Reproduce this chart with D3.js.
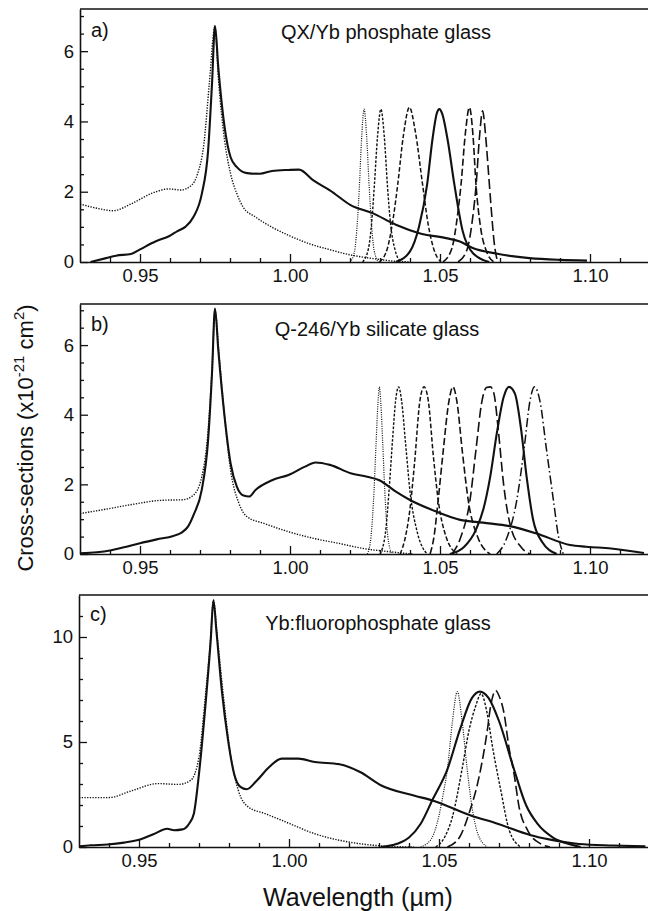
<!DOCTYPE html>
<html>
<head>
<meta charset="utf-8">
<script src="https://cdn.jsdelivr.net/npm/d3@7"></script>
<style>
body { margin: 0; background: #fff; }
svg { display: block; font-family: "Liberation Sans", Arial, Helvetica, sans-serif; }
.axis path, .axis line { stroke: #111; }
.axis text { font-size: 18.5px; fill: #111; }
.curve { fill: none; stroke: #111; stroke-linejoin: round; }
</style>
</head>
<body>
<svg id="chart" width="648" height="911"></svg>
<script>
// ---- axis ticks ----
const xDomain = [0.93, 1.12];
const xMajorTicks = [0.95, 1.00, 1.05, 1.10];
const xMinorTicks = [0.94, 0.96, 0.97, 0.98, 0.99, 1.01, 1.02, 1.03, 1.04, 1.06, 1.07, 1.08, 1.09, 1.11];
const yTicksAB = [0, 2, 4, 6];
const yMinorAB = [0.5, 1, 1.5, 2.5, 3, 3.5, 4.5, 5, 5.5, 6.5, 7];
const yTicksC = [0, 5, 10];
const yMinorC = [1, 2, 3, 4, 6, 7, 8, 9, 11];

// ---- a) QX/Yb phosphate glass : [wavelength um, cross-section 1e-21 cm2] ----
const emissionA = [[0.9335,0],[0.9387,0.11],[0.9420,0.18],[0.9470,0.23],[0.9500,0.36],[0.9553,0.59],[0.9598,0.74],[0.9625,0.88],[0.9651,1.0],[0.9678,1.28],[0.9706,1.94],[0.9727,3.17],[0.9740,5.07],[0.9750,6.72],[0.9761,5.54],[0.9782,3.84],[0.9802,2.98],[0.9823,2.70],[0.9857,2.53],[0.9899,2.51],[0.9940,2.59],[0.9995,2.62],[1.0030,2.63],[1.0078,2.32],[1.0133,2.04],[1.0202,1.62],[1.0275,1.39],[1.0353,1.06],[1.0431,0.82],[1.0520,0.68],[1.0564,0.59],[1.0609,0.40],[1.0687,0.24],[1.0798,0.11],[1.0900,0.06],[1.0990,0.04]];
const absorptionA = [[0.9300,1.65],[0.9362,1.52],[0.9410,1.46],[0.9472,1.66],[0.9541,1.96],[0.9596,2.08],[0.9637,2.05],[0.9671,2.18],[0.9692,2.51],[0.9713,3.36],[0.9731,5.07],[0.9750,6.70],[0.9761,5.26],[0.9782,3.46],[0.9802,2.51],[0.9823,1.94],[0.9844,1.56],[0.9885,1.28],[0.9940,0.99],[0.9995,0.76],[1.0064,0.52],[1.0133,0.35],[1.0202,0.20],[1.0275,0.10],[1.0340,0.03],[1.0400,0]];
const laserA1 = [[1.0200,0],[1.0215,0.3],[1.0225,1.2],[1.0231,2.1],[1.0238,3.4],[1.0247,4.35],[1.0256,3.5],[1.0263,2.3],[1.0270,1.3],[1.0280,0.35],[1.0295,0]];
const laserA2 = [[1.0242,0],[1.0262,0.4],[1.0273,1.2],[1.0281,2.15],[1.0292,3.6],[1.0303,4.35],[1.0314,3.6],[1.0325,2.15],[1.0335,1.1],[1.0350,0.35],[1.0370,0]];
const laserA3 = [[1.0298,0],[1.0325,0.4],[1.0345,1.3],[1.0359,2.2],[1.0378,3.6],[1.0398,4.4],[1.0418,3.7],[1.0442,2.2],[1.0460,1.1],[1.0480,0.35],[1.0503,0]];
const laserA4 = [[1.0353,0],[1.0400,0.3],[1.0430,1.0],[1.0457,2.2],[1.0475,3.5],[1.0490,4.25],[1.0498,4.35],[1.0508,4.2],[1.0525,3.5],[1.0548,2.2],[1.0575,0.9],[1.0610,0.25],[1.0664,0]];
const laserA5 = [[1.0510,0],[1.0540,0.4],[1.0558,1.3],[1.0570,2.2],[1.0585,3.7],[1.0598,4.4],[1.0610,3.6],[1.0620,2.2],[1.0635,1.0],[1.0655,0.3],[1.0680,0]];
const laserA6 = [[1.0560,0],[1.0590,0.35],[1.0608,1.2],[1.0620,2.15],[1.0632,3.6],[1.0642,4.3],[1.0652,3.6],[1.0662,2.5],[1.0670,1.6],[1.0680,0.6],[1.0692,0]];

// ---- b) Q-246/Yb silicate glass ----
const emissionB = [[0.9300,0.02],[0.9356,0.05],[0.9400,0.10],[0.9455,0.21],[0.9500,0.31],[0.9556,0.42],[0.9611,0.52],[0.9640,0.62],[0.9661,0.80],[0.9680,1.15],[0.9706,1.85],[0.9727,3.27],[0.9740,5.19],[0.9750,7.05],[0.9761,5.86],[0.9782,3.94],[0.9802,2.60],[0.9823,1.93],[0.9845,1.68],[0.9864,1.65],[0.9885,1.84],[0.9940,2.12],[0.9995,2.27],[1.0050,2.51],[1.0085,2.63],[1.0133,2.56],[1.0202,2.32],[1.0257,2.22],[1.0298,2.12],[1.0353,1.79],[1.0400,1.55],[1.0487,1.22],[1.0567,0.98],[1.0644,0.90],[1.0733,0.80],[1.0822,0.59],[1.0933,0.26],[1.0987,0.21],[1.1070,0.16],[1.1180,0.03]];
const absorptionB = [[0.9300,1.16],[0.9375,1.27],[0.9472,1.42],[0.9568,1.54],[0.9644,1.56],[0.9678,1.69],[0.9706,2.22],[0.9727,3.56],[0.9740,5.28],[0.9750,7.0],[0.9764,5.67],[0.9782,3.94],[0.9802,2.41],[0.9830,1.45],[0.9857,1.07],[0.9913,0.88],[0.9995,0.64],[1.0078,0.45],[1.0160,0.31],[1.0243,0.16],[1.0326,0.07],[1.0408,0]];
const laserB1 = [[1.0258,0],[1.0270,0.5],[1.0280,1.8],[1.0287,3.2],[1.0293,4.3],[1.0298,4.8],[1.0303,4.3],[1.0309,3.2],[1.0316,1.8],[1.0326,0.5],[1.0340,0]];
const laserB2 = [[1.0300,0],[1.0318,0.6],[1.0330,1.8],[1.0342,3.3],[1.0352,4.4],[1.0362,4.8],[1.0372,4.4],[1.0385,3.2],[1.0400,1.8],[1.0425,0.6],[1.0457,0]];
const laserB3 = [[1.0367,0],[1.0385,0.5],[1.0400,1.3],[1.0415,2.6],[1.0433,4.4],[1.0447,4.8],[1.0461,4.4],[1.0478,2.8],[1.0494,1.55],[1.0520,0.5],[1.0557,0]];
const laserB4 = [[1.0467,0],[1.0480,0.5],[1.0494,1.55],[1.0510,2.9],[1.0530,4.4],[1.0543,4.8],[1.0556,4.4],[1.0575,2.9],[1.0594,1.55],[1.0625,0.5],[1.0667,0]];
const laserB5 = [[1.0540,0],[1.0570,0.5],[1.0600,1.55],[1.0620,3.0],[1.0640,4.4],[1.0655,4.78],[1.0668,4.8],[1.0680,4.6],[1.0695,3.5],[1.0712,2.0],[1.0735,0.8],[1.0770,0.2],[1.0800,0]];
const laserB6 = [[1.0533,0],[1.0580,0.2],[1.0620,0.7],[1.0645,1.3],[1.0667,2.2],[1.0690,3.5],[1.0712,4.5],[1.0730,4.8],[1.0750,4.6],[1.0770,3.6],[1.0789,2.2],[1.0810,1.0],[1.0840,0.35],[1.0889,0]];
const laserB7 = [[1.0689,0],[1.0720,0.4],[1.0756,1.55],[1.0780,3.0],[1.0800,4.4],[1.0815,4.8],[1.0833,4.4],[1.0855,3.0],[1.0878,1.55],[1.0895,0.5],[1.0911,0]];

// ---- c) Yb:fluorophosphate glass ----
const emissionC = [[0.9300,0.03],[0.9339,0.08],[0.9395,0.12],[0.9450,0.21],[0.9506,0.37],[0.9550,0.62],[0.9594,0.87],[0.9617,0.80],[0.9645,0.84],[0.9667,1.11],[0.9683,1.6],[0.9700,3.49],[0.9721,6.67],[0.9739,9.84],[0.9748,11.75],[0.9758,10.3],[0.9776,7.46],[0.9797,5.08],[0.9817,3.49],[0.9838,2.86],[0.9859,2.75],[0.9893,3.17],[0.9934,3.81],[0.9976,4.21],[1.0031,4.21],[1.0086,4.05],[1.0168,3.94],[1.0237,3.57],[1.0306,2.94],[1.0416,2.45],[1.0478,2.22],[1.0606,1.50],[1.0695,1.11],[1.0806,0.56],[1.0871,0.35],[1.0967,0.14],[1.1078,0.07],[1.1188,0.03]];
const absorptionC = [[0.9300,2.35],[0.9397,2.35],[0.9480,2.70],[0.9562,3.02],[0.9631,2.98],[0.9672,3.17],[0.9700,4.29],[0.9721,7.14],[0.9739,10.0],[0.9748,11.75],[0.9762,9.84],[0.9783,6.98],[0.9803,4.60],[0.9831,2.70],[0.9865,1.90],[0.9921,1.59],[1.0003,1.11],[1.0086,0.63],[1.0168,0.32],[1.0251,0.13],[1.0333,0.03],[1.0416,0]];
const laserC1 = [[1.0439,0],[1.0475,0.4],[1.0500,1.5],[1.0515,2.6],[1.0528,3.7],[1.0545,6.0],[1.0561,7.4],[1.0577,6.0],[1.0594,3.7],[1.0610,1.9],[1.0630,0.6],[1.0661,0]];
const laserC2 = [[1.0306,0],[1.0360,0.15],[1.0400,0.45],[1.0439,1.11],[1.0480,2.3],[1.0528,3.7],[1.0570,5.6],[1.0610,7.1],[1.0636,7.4],[1.0665,7.1],[1.0700,6.0],[1.0750,3.7],[1.0790,2.0],[1.0828,1.11],[1.0880,0.45],[1.0930,0.15],[1.0972,0]];
const laserC3 = [[1.0489,0],[1.0520,0.5],[1.0545,1.45],[1.0578,3.8],[1.0600,5.55],[1.0622,6.7],[1.0640,7.3],[1.0660,6.4],[1.0678,4.8],[1.0706,2.7],[1.0734,0.8],[1.0772,0]];
const laserC4 = [[1.0528,0],[1.0570,0.5],[1.0600,1.6],[1.0633,3.3],[1.0661,5.55],[1.0672,6.7],[1.0689,7.45],[1.0700,7.2],[1.0717,6.35],[1.0733,4.76],[1.0750,3.5],[1.0767,1.9],[1.0795,0.8],[1.0839,0.15],[1.0870,0]];

// line styles (width, dash)
const styles = {
  solid:   {w: 2.1, dash: null},
  absorb:  {w: 1.4, dash: "1.3,1.4"},
  dot:     {w: 1.2, dash: "1,1.3"},
  short:   {w: 1.4, dash: "2.6,1.6"},
  medium:  {w: 1.5, dash: "4.5,2.2"},
  long:    {w: 1.6, dash: "7,3"},
  longer:  {w: 1.6, dash: "10,4"},
  dashdot: {w: 1.5, dash: "9,3,1.5,3"}
};

const panels = [
  {label: "a)", title: "QX/Yb phosphate glass", top: 9, bottom: 262, left: 80, yMax: 7.2,
   yTicks: yTicksAB, yMinor: yMinorAB, titleX: 386, titleDy: 30, labelDy: 28,
   series: [[absorptionA,"absorb"],[emissionA,"solid"],[laserA1,"dot"],[laserA2,"short"],[laserA3,"medium"],[laserA4,"solid"],[laserA5,"long"],[laserA6,"longer"]]},
  {label: "b)", title: "Q-246/Yb silicate glass", top: 304, bottom: 554, left: 80, yMax: 7.18,
   yTicks: yTicksAB, yMinor: yMinorAB, titleX: 377, titleDy: 32, labelDy: 27,
   series: [[absorptionB,"absorb"],[emissionB,"solid"],[laserB1,"dot"],[laserB2,"short"],[laserB3,"medium"],[laserB4,"long"],[laserB5,"longer"],[laserB6,"solid"],[laserB7,"dashdot"]]},
  {label: "c)", title: "Yb:fluorophosphate glass", top: 595, bottom: 847, left: 79, yMax: 12,
   yTicks: yTicksC, yMinor: yMinorC, titleX: 378, titleDy: 35, labelDy: 26,
   series: [[absorptionC,"absorb"],[emissionC,"solid"],[laserC1,"dot"],[laserC2,"solid"],[laserC3,"short"],[laserC4,"longer"]]}
];

const svg = d3.select("#chart");
const plotWidth = 570;

panels.forEach((p, i) => {
  const x = d3.scaleLinear().domain(xDomain).range([p.left, p.left + plotWidth]);
  const y = d3.scaleLinear().domain([0, p.yMax]).range([p.bottom, p.top]);
  const g = svg.append("g");

  const clipId = "clip" + i;
  svg.append("clipPath").attr("id", clipId).append("rect")
     .attr("x", p.left).attr("y", p.top - 2)
     .attr("width", plotWidth).attr("height", p.bottom - p.top + 2);

  const line = d3.line().x(d => x(d[0])).y(d => y(d[1])).curve(d3.curveMonotoneX);
  const curves = g.append("g").attr("clip-path", `url(#${clipId})`);
  p.series.forEach(([data, st]) => {
    const s = styles[st];
    curves.append("path").attr("class", "curve")
      .attr("d", line(data))
      .attr("stroke-width", s.w)
      .attr("stroke-dasharray", s.dash);
  });

  // frame (top edge)
  g.append("line").attr("x1", p.left).attr("x2", p.left + plotWidth)
   .attr("y1", p.top).attr("y2", p.top).attr("stroke", "#111").attr("stroke-width", 1.5);

  // bottom axis
  const xAxis = d3.axisBottom(x).tickValues(xMajorTicks).tickFormat(d3.format(".2f"))
                  .tickSizeInner(-8).tickSizeOuter(0).tickPadding(7);
  g.append("g").attr("class", "axis").attr("transform", `translate(0,${p.bottom})`)
   .call(xAxis).call(a => a.select(".domain").attr("stroke-width", 1.6));
  g.append("g").attr("class", "axis").attr("transform", `translate(0,${p.bottom})`)
   .call(d3.axisBottom(x).tickValues(xMinorTicks).tickFormat("").tickSizeInner(-4).tickSizeOuter(0))
   .call(a => a.select(".domain").remove());

  // left axis
  const yAxis = d3.axisLeft(y).tickValues(p.yTicks).tickFormat(d3.format("d"))
                  .tickSizeInner(-8).tickSizeOuter(0).tickPadding(6);
  g.append("g").attr("class", "axis").attr("transform", `translate(${p.left},0)`)
   .call(yAxis).call(a => a.select(".domain").attr("stroke-width", 1.6));
  g.append("g").attr("class", "axis").attr("transform", `translate(${p.left},0)`)
   .call(d3.axisLeft(y).tickValues(p.yMinor).tickFormat("").tickSizeInner(-4).tickSizeOuter(0))
   .call(a => a.select(".domain").remove());

  g.selectAll(".axis .tick line").attr("stroke-width", 1.3);

  // panel label and title
  g.append("text").attr("x", p.left + 11).attr("y", p.top + p.labelDy)
   .attr("font-size", 20).attr("fill", "#111").text(p.label);
  g.append("text").attr("x", p.titleX).attr("y", p.top + p.titleDy)
   .attr("text-anchor", "middle").attr("font-size", 20).attr("fill", "#111").text(p.title);
});

// axis titles
const yTitle = svg.append("text").attr("transform", "translate(33,438) rotate(-90)")
  .attr("text-anchor", "middle").attr("font-size", 22).attr("fill", "#111");
yTitle.append("tspan").text("Cross-sections (x10");
yTitle.append("tspan").attr("dy", -9).attr("font-size", 15).text("-21");
yTitle.append("tspan").attr("dy", 9).text(" cm");
yTitle.append("tspan").attr("dy", -9).attr("font-size", 15).text("2");
yTitle.append("tspan").attr("dy", 9).text(")");

svg.append("text").attr("x", 358).attr("y", 906).attr("text-anchor", "middle")
   .attr("font-size", 25).attr("fill", "#111").text("Wavelength (\u00b5m)");
</script>
</body>
</html>
